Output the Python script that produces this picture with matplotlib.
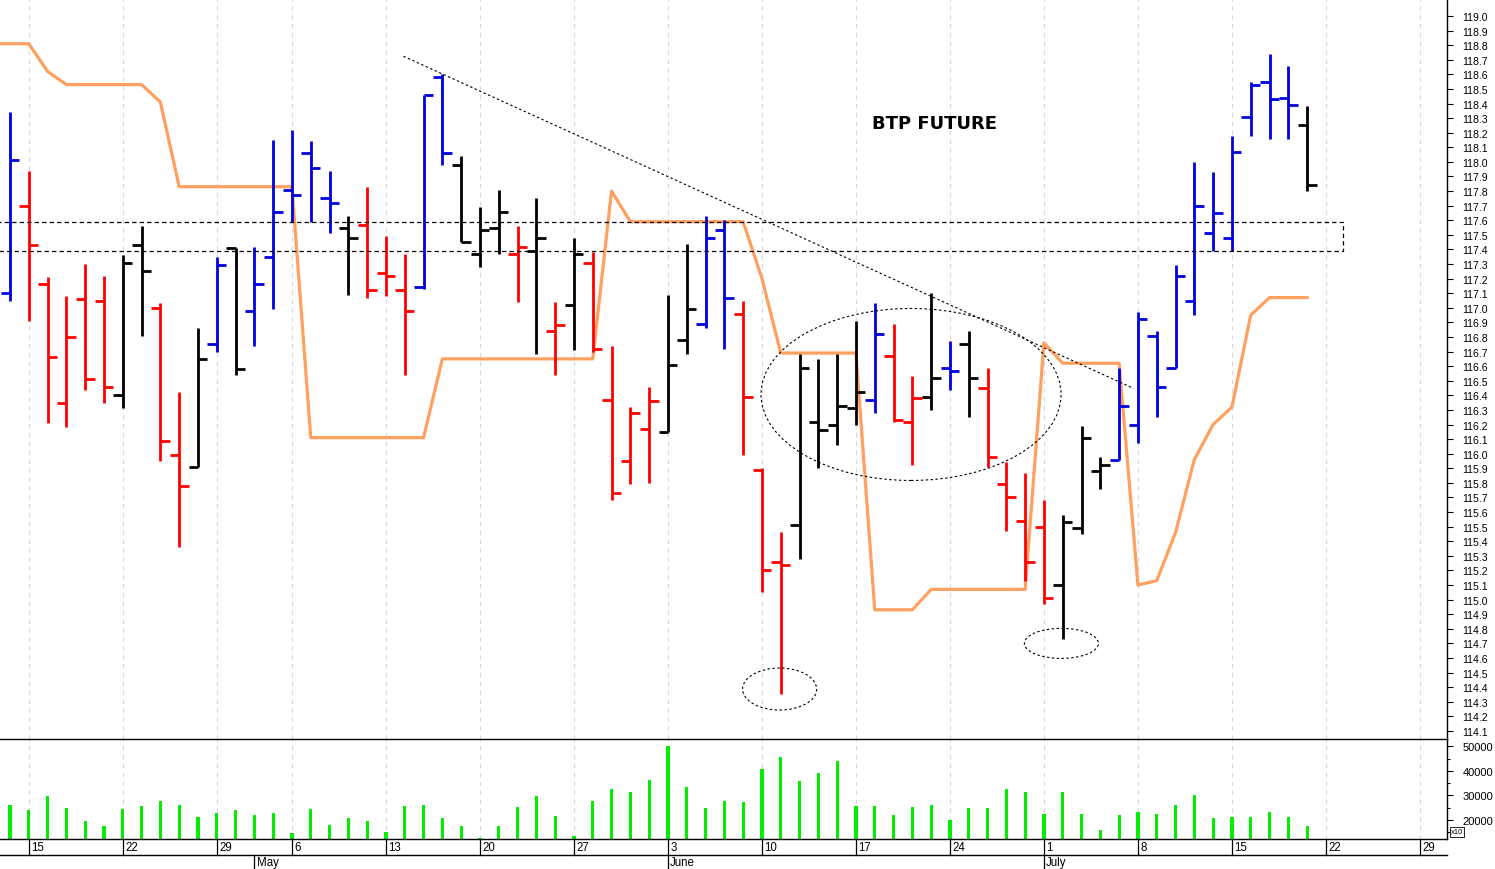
import matplotlib
matplotlib.use("Agg")
import matplotlib.pyplot as plt
import numpy as np
import pandas as pd
from matplotlib.patches import Ellipse, Rectangle

# ---------------- data ----------------
trade_dates = [d for d in pd.bdate_range("2013-04-12", "2013-07-30")
               if d != pd.Timestamp("2013-05-01")]

opens = [117.10, 117.70, 117.16, 116.35, 117.06, 117.05, 116.40, 117.43, 117.00, 115.99,
         115.91, 116.75, 117.41, 116.98, 117.35, 117.81, 118.06, 117.75, 117.55, 117.57,
         117.24, 117.12, 117.14, 118.58, 117.98, 117.37, 117.55, 117.37, 117.39, 116.84,
         117.02, 117.31, 116.37, 115.95, 116.17, 116.15, 116.78, 116.89, 117.53, 116.96,
         115.89, 115.26, 115.51, 116.22, 116.20, 116.31, 116.37, 116.67, 116.22, 116.39,
         116.59, 116.75, 116.45, 115.79, 115.54, 115.50, 115.10, 115.49, 115.88, 115.96,
         116.20, 116.81, 116.59, 117.05, 117.51, 117.48, 118.31, 118.55, 118.44, 118.25]
highs = [118.34, 117.94, 117.21, 117.08, 117.30, 117.22, 117.36, 117.56, 117.03, 116.42,
         116.86, 117.35, 117.41, 117.42, 118.15, 118.22, 118.14, 117.94, 117.63, 117.83,
         117.49, 117.37, 118.46, 118.60, 118.04, 117.69, 117.81, 117.56, 117.75, 117.04,
         117.48, 117.38, 116.74, 116.32, 116.46, 117.09, 117.44, 117.63, 117.60, 117.05,
         115.90, 115.46, 116.68, 116.65, 116.68, 116.91, 117.03, 116.89, 116.53, 117.10,
         116.77, 116.84, 116.59, 115.94, 115.87, 115.68, 115.58, 116.19, 115.98, 116.59,
         116.97, 116.84, 117.29, 118.00, 117.93, 118.18, 118.55, 118.74, 118.66, 118.38]
lows = [117.05, 116.91, 116.21, 116.18, 116.44, 116.35, 116.31, 116.81, 115.95, 115.36,
        115.91, 116.70, 116.54, 116.74, 116.99, 117.59, 117.59, 117.51, 117.09, 117.07,
        117.08, 116.54, 117.13, 117.98, 117.45, 117.28, 117.37, 117.04, 116.68, 116.54,
        116.71, 116.70, 115.68, 115.79, 115.80, 116.15, 116.68, 116.86, 116.72, 115.99,
        115.05, 114.35, 115.28, 115.90, 116.06, 116.20, 116.28, 116.22, 115.92, 116.30,
        116.44, 116.25, 115.91, 115.47, 115.13, 114.97, 114.73, 115.45, 115.76, 115.96,
        116.07, 116.25, 116.59, 116.95, 117.39, 117.39, 118.18, 118.16, 118.16, 117.80]
closes = [118.01, 117.43, 116.66, 116.80, 116.51, 116.46, 117.31, 117.25, 116.09, 115.78,
          116.65, 117.29, 116.58, 117.16, 117.66, 117.77, 117.96, 117.72, 117.48, 117.12,
          117.22, 116.98, 118.46, 118.06, 117.45, 117.53, 117.66, 117.42, 117.48, 116.88,
          117.37, 116.72, 115.73, 116.28, 116.36, 116.61, 116.99, 117.48, 117.07, 116.39,
          115.20, 115.24, 116.59, 116.16, 116.33, 116.42, 116.82, 116.23, 116.38, 116.52,
          116.57, 116.52, 115.98, 115.70, 115.26, 115.01, 115.53, 116.11, 115.92, 116.33,
          116.92, 116.46, 117.22, 117.70, 117.65, 118.07, 118.53, 118.43, 118.39, 117.84]
bar_colors = ["blue", "red", "red", "red", "red", "red", "black", "black", "red", "red",
              "black", "blue", "black", "blue", "blue", "blue", "blue", "blue", "black", "red",
              "red", "red", "blue", "blue", "black", "black", "black", "red", "black", "red",
              "black", "red", "red", "red", "red", "black", "black", "blue", "blue", "red",
              "red", "red", "black", "black", "black", "black", "blue", "red", "red", "black",
              "blue", "black", "red", "red", "red", "red", "black", "black", "black", "blue",
              "blue", "blue", "blue", "blue", "blue", "blue", "blue", "blue", "blue", "black"]
volume = [26000, 24100, 29800, 24700, 19500, 17600, 24400, 25600, 27700, 25900,
          21100, 22800, 24000, 22000, 22800, 14500, 24400, 17900, 20700, 19600,
          14900, 25600, 25900, 20900, 17500, 12700, 17600, 25200, 29700, 21600,
          13300, 27800, 32600, 31500, 36200, 50200, 33400, 24700, 27800, 27300,
          40700, 45500, 35700, 39000, 44000, 25500, 25500, 22000, 25300, 25900,
          19900, 24700, 24800, 32600, 31300, 22400, 31300, 22400, 16000, 21800,
          23200, 22400, 26200, 30000, 20600, 21100, 21000, 23300, 21100, 17300]
# orange indicator, starts one session before the first bar
orange_start = -1
orange = [118.81, 118.81, 118.81, 118.62, 118.53, 118.53, 118.53, 118.53, 118.53, 118.41,
          117.83, 117.83, 117.83, 117.83, 117.83, 117.83, 117.83,
          116.11, 116.11, 116.11, 116.11, 116.11, 116.11, 116.11,
          116.65, 116.65, 116.65, 116.65, 116.65, 116.65, 116.65, 116.65, 116.65,
          117.80, 117.59, 117.59, 117.59, 117.59, 117.59, 117.59, 117.59,
          117.20, 116.69, 116.69, 116.69, 116.69, 116.69,
          114.93, 114.93, 114.93, 115.07, 115.07, 115.07, 115.07, 115.07, 115.07,
          116.76, 116.62, 116.62, 116.62, 116.62,
          115.10, 115.13, 115.46, 115.96, 116.20, 116.32, 116.95, 117.07, 117.07, 117.07]

# annotations (index, price)
trend_x = [20.93, 59.76]
trend_y = [118.724, 116.448]
zone_low, zone_high, zone_end = 117.387, 117.586, 70.9
ellipses = [(47.93, 116.406, 15.96, 1.179),
            (40.94, 114.387, 3.94, 0.288),
            (55.93, 114.700, 3.94, 0.206)]
title_text = "BTP FUTURE"
title_pos = (49.2, 118.265)

price_ticks = [round(114.1 + 0.1 * k, 1) for k in range(50)]
vol_ticks = [20000, 30000, 40000, 50000]
vol_minor = [15000, 25000, 35000, 45000]

# ---------------- layout ----------------
W, H = 1495, 870
fig = plt.figure(figsize=(W / 100, H / 100), dpi=100)
fig.patch.set_facecolor("white")


def rect(x0, y0, x1, y1):
    return [x0 / W, 1 - y1 / H, (x1 - x0) / W, (y1 - y0) / H]


ax = fig.add_axes(rect(0, 0, 1447, 740))
axv = fig.add_axes(rect(0, 740, 1447, 840))
axd = fig.add_axes(rect(0, 840, 1447, 870))

XL = (-0.53, 76.44)
idx = np.arange(len(trade_dates))
mondays = [i for i, d in enumerate(trade_dates) if d.weekday() == 0]
mon_labels = [str(trade_dates[i].day) for i in mondays]
month_idx = [i for i in range(1, len(trade_dates))
             if trade_dates[i].month != trade_dates[i - 1].month]
month_labels = [trade_dates[i].strftime("%B") for i in month_idx]

cmap = {"blue": "#0000DD", "red": "#FF0000", "black": "#000000"}
grid_col = "#D6D6E2"

# ---------------- price panel ----------------
ax.set_xlim(*XL)
ax.set_ylim(114.0446, 119.1165)
for m in mondays:
    ax.axvline(m, color=grid_col, lw=0.8, ls=(0, (4, 4)), zorder=0)

ax.plot(np.arange(len(orange)) + orange_start, orange, color="#FFA060",
        lw=2.3, zorder=2, solid_joinstyle="round")

bx = idx[:len(opens)]
tick = 0.5
for i in range(len(opens)):
    c = cmap[bar_colors[i]]
    ax.vlines(bx[i], lows[i], highs[i], color=c, lw=2.0, zorder=3, capstyle="butt")
    ax.hlines(opens[i], bx[i] - tick, bx[i], color=c, lw=2.0, zorder=3)
    ax.hlines(closes[i], bx[i], bx[i] + tick, color=c, lw=2.0, zorder=3)

ax.plot(trend_x, trend_y, color="black", lw=0.8, ls=(0, (2.2, 2.2)), zorder=4)
ax.add_patch(Rectangle((-3, zone_low), zone_end + 3, zone_high - zone_low,
                       fill=False, ec="black", lw=0.9, ls=(0, (3.5, 2.5)), zorder=4))
for (ex, ey, ew, eh) in ellipses:
    ax.add_patch(Ellipse((ex, ey), ew, eh, fill=False, ec="black", lw=0.8,
                         ls=(0, (2.2, 2.2)), zorder=4))
ax.text(*title_pos, title_text, fontsize=13, fontweight="bold", ha="center",
        va="center", family="DejaVu Sans", zorder=5)

ax.yaxis.tick_right()
ax.set_yticks(price_ticks)
ax.set_yticklabels([f"{v:.1f}" for v in price_ticks], fontsize=7.6,
                   family="Liberation Sans")
ax.tick_params(axis="y", length=4, width=0.8, pad=7, colors="black")
ax.set_xticks([])
for s in ["left", "top", "bottom"]:
    ax.spines[s].set_visible(False)
ax.spines["right"].set_linewidth(1.0)

# ---------------- volume panel ----------------
axv.set_xlim(*XL)
axv.set_ylim(12160, 52980)
for m in mondays:
    axv.axvline(m, color=grid_col, lw=0.8, ls=(0, (4, 4)), zorder=0)
axv.bar(idx[:len(volume)], volume, width=0.17, color="#00EE00", zorder=2)
axv.yaxis.tick_right()
axv.set_yticks(vol_ticks)
axv.set_yticklabels([str(v) for v in vol_ticks], fontsize=8, family="Liberation Sans")
axv.set_yticks(vol_minor, minor=True)
axv.tick_params(axis="y", which="major", length=4, width=0.8, pad=7)
axv.tick_params(axis="y", which="minor", length=2.5, width=0.8)
axv.set_xticks([])
axv.spines["left"].set_visible(False)
for s in ["right", "bottom", "top"]:
    axv.spines[s].set_linewidth(1.0)
    axv.spines[s].set_color("black")
fig.text(1451 / W, 1 - 833 / H, "x10", fontsize=5.5, va="center", ha="left",
         family="Liberation Sans",
         bbox=dict(boxstyle="square,pad=0.15", fc="white", ec="black", lw=0.6))

# ---------------- date strip ----------------
axd.set_xlim(*XL)
axd.set_ylim(30, 0)
axd.axis("off")
axd.plot(XL, [16, 16], color="black", lw=1.0, clip_on=False)
for m, lab in zip(mondays, mon_labels):
    axd.plot([m, m], [0, 16], color="black", lw=0.9)
    axd.text(m + 0.12, 8.5, lab, fontsize=8.3, ha="left", va="center",
             family="Liberation Sans")
for m, lab in zip(month_idx, month_labels):
    axd.plot([m, m], [16, 30], color="black", lw=0.9, clip_on=False)
    axd.text(m + 0.12, 23.5, lab, fontsize=8.3, ha="left", va="center",
             family="Liberation Sans")

fig.savefig("out.png", dpi=100, facecolor="white")
